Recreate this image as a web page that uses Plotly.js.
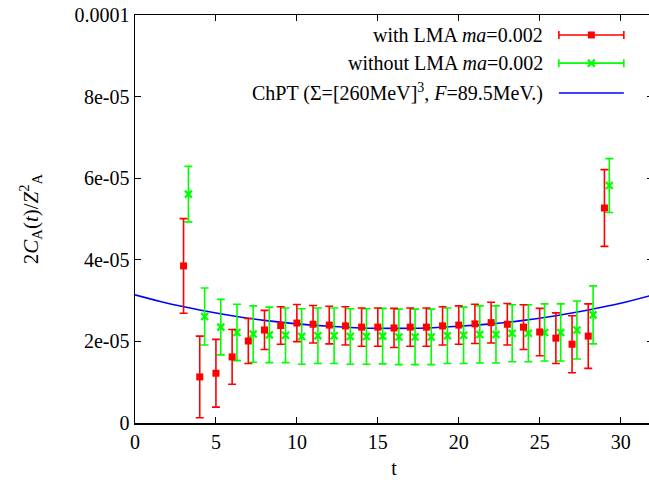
<!DOCTYPE html>
<html>
<head>
<meta charset="utf-8">
<script src="https://cdn.plot.ly/plotly-3.0.1.min.js"></script>
<style>
html,body{margin:0;padding:0;overflow:hidden;background:#fff;width:649px;height:483px;}
#plot{width:660px;height:483px;}
</style>
</head>
<body>
<div id="plot"></div>
<script>
// ---- data (values in units of 1e-6) ----
const tValues = [3,4,5,6,7,8,9,10,11,12,13,14,15,16,17,18,19,20,21,22,23,24,25,26,27,28,29];
const withLMA = [38.5,11.3,12.2,16.2,20.1,22.8,23.9,24.5,24.2,24.0,23.8,23.5,23.5,23.3,23.5,23.5,23.8,24.0,24.3,24.6,24.2,23.5,22.3,20.8,19.3,21.3,52.7];
const withLMAErr = [11.6,10.0,8.3,6.7,5.5,4.8,4.6,4.55,4.6,4.6,4.7,4.7,4.7,4.8,4.7,4.7,4.7,4.7,4.8,5.0,5.1,5.5,5.8,6.2,7.0,7.9,9.4];
const withoutLMA = [56.1,26.1,23.5,22.2,21.8,21.6,21.5,21.2,21.4,21.4,21.2,21.2,21.3,21.1,21.1,21.1,21.4,21.5,21.7,21.7,22.0,22.0,22.2,22.2,22.8,26.5,58.2];
const withoutLMAErr = [6.8,7.0,6.8,6.9,6.9,6.8,6.7,6.8,6.8,6.8,6.8,6.8,6.8,6.8,6.8,6.8,6.8,6.9,7.0,7.0,7.0,7.0,7.0,7.0,7.1,7.1,6.6];
const chptT = [0,2,4,6,8,10,12,14,16,18,20,22,24,26,28,30,32];
const chptY = [31.4,29.35,27.7,26.3,25.15,24.3,23.7,23.3,23.2,23.3,23.7,24.3,25.15,26.3,27.7,29.35,31.4];
const xTicks = [0,5,10,15,20,25,30];
const yTicks = [0,2e-5,4e-5,6e-5,8e-5,1e-4];
const yTickText = ['0','2e-05','4e-05','6e-05','8e-05','0.0001'];
const legendLabels = [
  'with LMA <i>ma</i>=0.002',
  'without LMA <i>ma</i>=0.002',
  'ChPT (Σ=[260MeV]<sup>3</sup>, <i>F</i>=89.5MeV.)'
];

const SCALE = 1e-6;
const GREEN_SHIFT = 0.3;
const sc = a => a.map(v => v * SCALE);

const RED = '#ff0000', GREEN = '#00ff00', BLUE = '#0000ff';
const FONT = 'Liberation Serif, Times New Roman, serif';

const traces = [
  {
    x: chptT, y: sc(chptY), mode: 'lines', type: 'scatter',
    line: {color: BLUE, width: 1.6, shape: 'spline'}, showlegend: false, hoverinfo: 'skip'
  },
  {
    x: tValues.map(v => v + GREEN_SHIFT), y: sc(withoutLMA), mode: 'markers', type: 'scatter',
    marker: {symbol: 'x-thin', size: 7, color: GREEN, line: {color: GREEN, width: 2.2}},
    error_y: {type: 'data', array: sc(withoutLMAErr), visible: true, color: GREEN, thickness: 1.6, width: 4},
    showlegend: false
  },
  {
    x: tValues, y: sc(withLMA), mode: 'markers', type: 'scatter',
    marker: {symbol: 'square', size: 7, color: RED},
    error_y: {type: 'data', array: sc(withLMAErr), visible: true, color: RED, thickness: 1.6, width: 4},
    showlegend: false
  }
];

// legend keys drawn on a hidden overlay axis (0..1 box)
const keyX = 0.881, keyHalf = 0.0627;
const keyRows = [0.951, 0.882, 0.809];
traces.push({
  x: [keyX], y: [keyRows[0]], xaxis: 'x2', yaxis: 'y2', mode: 'markers', type: 'scatter',
  marker: {symbol: 'square', size: 7, color: RED},
  error_x: {type: 'constant', value: keyHalf, color: RED, thickness: 1.6, width: 4},
  showlegend: false, hoverinfo: 'skip'
});
traces.push({
  x: [keyX], y: [keyRows[1]], xaxis: 'x2', yaxis: 'y2', mode: 'markers', type: 'scatter',
  marker: {symbol: 'x-thin', size: 7, color: GREEN, line: {color: GREEN, width: 2.2}},
  error_x: {type: 'constant', value: keyHalf, color: GREEN, thickness: 1.6, width: 4},
  showlegend: false, hoverinfo: 'skip'
});
traces.push({
  x: [keyX - keyHalf, keyX + keyHalf], y: [keyRows[2], keyRows[2]], xaxis: 'x2', yaxis: 'y2',
  mode: 'lines', type: 'scatter', line: {color: BLUE, width: 1.6},
  showlegend: false, hoverinfo: 'skip'
});

const annotations = legendLabels.map((txt, i) => ({
  xref: 'x2', yref: 'y2', x: 0.7915, y: keyRows[i], xanchor: 'right', yanchor: 'middle',
  text: txt, showarrow: false, font: {family: FONT, size: 20, color: '#000'}
}));

const axisCommon = {
  showline: true, linecolor: '#000', linewidth: 1.5, mirror: 'ticks',
  ticks: 'inside', ticklen: 6, tickwidth: 1, tickcolor: '#000',
  showgrid: false, zeroline: false,
  tickfont: {family: FONT, size: 20, color: '#000'}
};

const layout = {
  width: 660, height: 483,
  margin: {l: 135, r: 7, t: 15, b: 60},
  paper_bgcolor: '#fff', plot_bgcolor: '#fff',
  font: {family: FONT, size: 20, color: '#000'},
  xaxis: Object.assign({}, axisCommon, {
    range: [0, 32], tickvals: xTicks, ticktext: xTicks.map(String),
    title: {text: 't', font: {family: FONT, size: 20}, standoff: 9}
  }),
  yaxis: Object.assign({}, axisCommon, {
    range: [0, 1e-4], tickvals: yTicks, ticktext: yTickText,
    title: {text: '2<i>C</i><sub>A</sub>(<i>t</i>)/<i>Z</i><sup>2</sup><sub>A</sub>', font: {family: FONT, size: 21}, standoff: 30}
  }),
  xaxis2: {overlaying: 'x', range: [0, 1], visible: false, fixedrange: true},
  yaxis2: {overlaying: 'y', range: [0, 1], visible: false, fixedrange: true},
  annotations: annotations,
  showlegend: false
};

Plotly.newPlot('plot', traces, layout, {staticPlot: true, displayModeBar: false});
</script>
</body>
</html>
